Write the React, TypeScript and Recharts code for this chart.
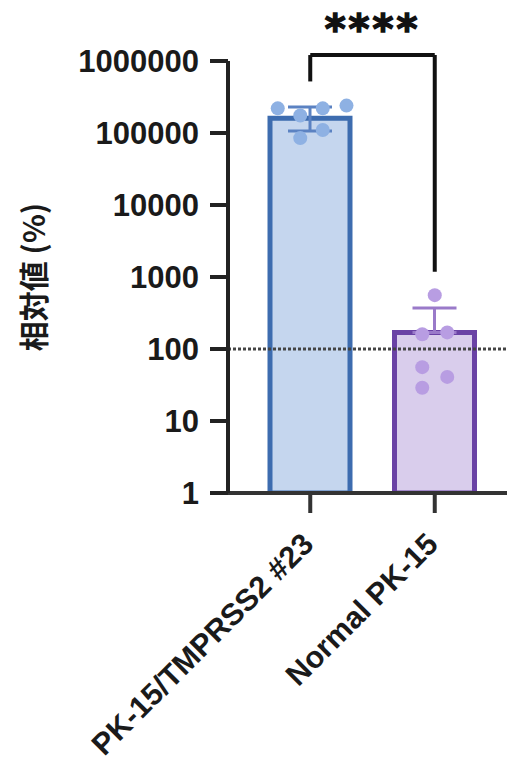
import { ComposedChart, Bar, ErrorBar, Scatter, XAxis, YAxis, ReferenceLine, Label } from 'recharts';

const groups = ['PK-15/TMPRSS2 #23', 'Normal PK-15'];
const means = [160000, 170];
const errLow = [53000, 0];
const errHigh = [70000, 200];
const tmprssPoints = [220000, 175000, 220000, 240000, 110000, 85000];
const tmprssJitter = [-0.26, -0.08, 0.1, 0.29, 0.1, -0.08];
const normalPoints = [560, 160, 170, 56, 41, 29];
const normalJitter = [0, -0.1, 0.1, -0.1, 0.1, -0.1];
const yTicks = [1, 10, 100, 1000, 10000, 100000, 1000000];
// significance bracket: top, left leg end, right leg end
const bracketTop = 1210000;
const bracketLeftEnd = 520000;
const bracketRightEnd = 1180;

const BAND = 125;
const FONT = '"Liberation Sans", Arial, sans-serif';

const data = groups.map((name, i) => ({
  name,
  tmprss: i === 0 ? means[0] : null,
  normal: i === 1 ? means[1] : null,
  errT: i === 0 ? [errLow[0], errHigh[0]] : null,
  errN: i === 1 ? [errLow[1], errHigh[1]] : null,
}));

const tmprssDots = tmprssPoints.map((value, i) => ({ name: groups[0], value, j: tmprssJitter[i] }));
const normalDots = normalPoints.map((value, i) => ({ name: groups[1], value, j: normalJitter[i] }));

const dotShape = (fill: string) => (p: any) => (
  <circle cx={p.cx + p.payload.j * BAND} cy={p.cy} r={7} fill={fill} />
);

const XTick = ({ x, y, payload }: any) => (
  <g transform={`translate(${x},${y})`}>
    <text
      x={5}
      y={31}
      textAnchor="end"
      transform="rotate(-45 5 31)"
      fontFamily={FONT}
      fontWeight="bold"
      fontSize={30.5}
      fill="#1a1a1a"
    >
      {payload.value}
    </text>
  </g>
);

const YTitle = ({ viewBox }: any) => {
  const cx = 32;
  const cy = viewBox ? viewBox.y + viewBox.height / 2 : 277;
  return (
    <text
      x={cx}
      y={cy}
      transform={`rotate(-90 ${cx} ${cy})`}
      textAnchor="middle"
      dominantBaseline="central"
      fontFamily='"Noto Sans CJK JP", sans-serif'
      fontWeight="bold"
      fontSize={30}
      fill="#1a1a1a"
    >
      相対値 (%)
    </text>
  );
};

export default function App() {
  return (
    <div style={{ margin: '-8px 0 0 -8px' }}>
      <ComposedChart
        width={515}
        height={766}
        data={data}
        margin={{ top: 61, right: 0, left: 0, bottom: 0 }}
        barGap={-80}
      >
        <XAxis
          dataKey="name"
          allowDuplicatedCategory={false}
          padding={{ left: 20, right: 18 }}
          height={273}
          interval={0}
          axisLine={{ stroke: '#333', strokeWidth: 4 }}
          tickLine={{ stroke: '#333', strokeWidth: 4 }}
          tickSize={20}
          tick={<XTick />}
        />
        <YAxis
          scale="log"
          domain={[1, 1000000]}
          allowDataOverflow
          ticks={yTicks}
          width={228}
          axisLine={{ stroke: '#222', strokeWidth: 4 }}
          tickLine={{ stroke: '#222', strokeWidth: 4 }}
          tickSize={18}
          tickMargin={11}
          tick={{ fontFamily: FONT, fontWeight: 'bold', fontSize: 31, fill: '#1a1a1a' }}
        >
          <Label content={<YTitle />} />
        </YAxis>
        <Bar dataKey="tmprss" barSize={80} fill="#c5d6ee" stroke="#3d6caf" strokeWidth={5} isAnimationActive={false}>
          <ErrorBar dataKey="errT" width={22} stroke="#5b82c2" strokeWidth={3} />
        </Bar>
        <Bar dataKey="normal" barSize={80} fill="#d9cdec" stroke="#6a42a5" strokeWidth={5} isAnimationActive={false}>
          <ErrorBar dataKey="errN" width={22} stroke="#9a7ac9" strokeWidth={3} />
        </Bar>
        <ReferenceLine y={100} stroke="#444" strokeWidth={3} strokeDasharray="3 2" />
        <Scatter data={tmprssDots} dataKey="value" shape={dotShape('#8eb1e3')} isAnimationActive={false} />
        <Scatter data={normalDots} dataKey="value" shape={dotShape('#b89de2')} isAnimationActive={false} />
        <ReferenceLine
          ifOverflow="visible"
          stroke="#111"
          strokeWidth={4}
          segment={[
            { x: groups[0], y: bracketTop },
            { x: groups[1], y: bracketTop },
          ]}
          label={{
            value: '****',
            position: 'top',
            offset: 12,
            fontFamily: '"DejaVu Sans", sans-serif',
            fontWeight: 'bold',
            fontSize: 40,
            letterSpacing: 3,
            fill: '#111',
            stroke: '#111',
            strokeWidth: 1.5,
          }}
        />
        <ReferenceLine
          ifOverflow="visible"
          stroke="#111"
          strokeWidth={4}
          segment={[
            { x: groups[0], y: bracketTop },
            { x: groups[0], y: bracketLeftEnd },
          ]}
        />
        <ReferenceLine
          ifOverflow="visible"
          stroke="#111"
          strokeWidth={4}
          segment={[
            { x: groups[1], y: bracketTop },
            { x: groups[1], y: bracketRightEnd },
          ]}
        />
      </ComposedChart>
    </div>
  );
}
